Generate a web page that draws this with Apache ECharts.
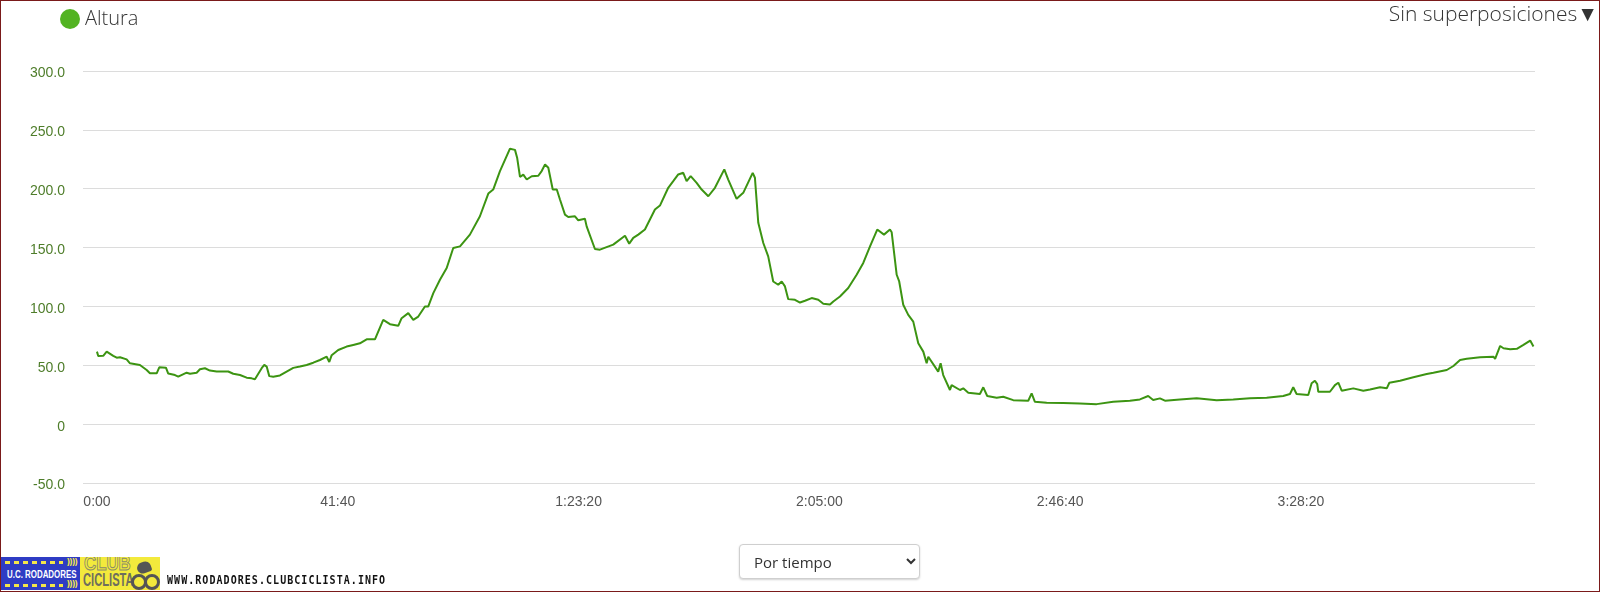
<!DOCTYPE html>
<html>
<head>
<meta charset="utf-8">
<script src="https://cdn.jsdelivr.net/npm/echarts@6/dist/echarts.min.js"></script>
<style>
  html, body { margin: 0; padding: 0; background: #fff; }
  #chart { position: absolute; left: 0; top: 0; width: 1600px; height: 592px; }
  #frame { position: absolute; left: 0; top: 0; width: 1600px; height: 592px; box-sizing: border-box; border: 1px solid #7a1a1a; pointer-events: none; }
  #mode { position: absolute; left: 739px; top: 544px; width: 181px; height: 35px; font: 15px 'Open Sans', sans-serif; color: #333; padding: 0 8px 0 10px; border: 1px solid #cfcfcf; border-radius: 4px; background: #fff; box-shadow: 0 1px 2px rgba(0,0,0,0.18); }
  #logo1 { position: absolute; left: 1px; top: 557px; width: 79px; height: 33px; background: #2f3cc4; overflow: hidden; }
  #logo1 .dash { position: absolute; left: 4px; width: 58px; height: 3px; background: repeating-linear-gradient(90deg, #f3e64a 0 5px, transparent 5px 9px); }
  #logo1 .txt { position: absolute; left: 6px; top: 11px; font: bold 11px 'Liberation Sans', sans-serif; color: #fff; white-space: nowrap; transform: scaleX(0.72); transform-origin: left top; }
  #logo1 .arr { position: absolute; right: 3px; font: bold 8px 'DejaVu Sans', sans-serif; color: #f3e64a; letter-spacing: -1px; }
  #logo2 { position: absolute; left: 80px; top: 557px; width: 80px; height: 33px; background: #f3ea3c; overflow: hidden; }
  #logo2 .club { position: absolute; left: 4px; top: -6px; font: bold 21px 'Liberation Sans', sans-serif; color: transparent; -webkit-text-stroke: 1px #8a8a6a; transform: scaleX(0.8); transform-origin: left top; }
  #logo2 .cic { position: absolute; left: 3px; top: 13px; font: bold 18px 'Liberation Sans', sans-serif; color: #6e6e5e; transform: scaleX(0.62); transform-origin: left top; }
  #logo2 .w { position: absolute; width: 10px; height: 10px; border: 3px solid #555; border-radius: 50%; top: 17px; }
  #logo2 .b { position: absolute; left: 57px; top: 5px; width: 14px; height: 11px; background: #555; border-radius: 6px 6px 2px 6px; transform: rotate(-20deg); }
  #site { position: absolute; left: 167px; top: 573px; font: bold 10px 'DejaVu Sans Mono', monospace; color: #111; letter-spacing: 1.05px; transform: scaleY(1.25); transform-origin: left top; white-space: nowrap; }
</style>
</head>
<body>
<div id="chart"></div>
<select id="mode"><option>Por tiempo</option><option>Por distancia</option></select>
<div id="logo1">
  <div class="dash" style="top:4px"></div>
  <div class="arr" style="top:1px">))))</div>
  <div class="txt">U.C. RODADORES</div>
  <div class="dash" style="top:27px"></div>
  <div class="arr" style="top:23px">))))</div>
</div>
<div id="logo2">
  <div class="club">CLUB</div>
  <div class="cic">CICLISTA</div>
  <div class="b"></div>
  <div class="w" style="left:51px"></div>
  <div class="w" style="left:64px"></div>
</div>
<div id="site">WWW.RODADORES.CLUBCICLISTA.INFO</div>
<div id="frame"></div>
<script>
// elapsed time in seconds
const timeSec = [0, 13, 65, 101, 169, 205, 239, 308, 343, 446, 516, 550, 620, 647, 716, 740, 810, 844, 931, 966,
  1035, 1069, 1121, 1173, 1243, 1363, 1415, 1485, 1554, 1606, 1640, 1658, 1710, 1737, 1762, 1789, 1830, 1900, 1969, 2038,
  2108, 2177, 2246, 2315, 2385, 2412, 2437, 2505, 2592, 2661, 2730, 2800, 2886, 2972, 3042, 3128, 3163, 3232, 3284, 3336,
  3405, 3440, 3492, 3561, 3631, 3699, 3769, 3872, 3976, 4063, 4114, 4184, 4288, 4340, 4363, 4392, 4426, 4462, 4514, 4582,
  4617, 4652, 4686, 4732, 4774, 4807, 4859, 4893, 4963, 4997, 5066, 5084, 5170, 5222, 5360, 5482, 5526, 5568, 5620, 5689,
  5793, 5845, 5931, 5983, 6035, 6087, 6122, 6164, 6226, 6278, 6347, 6416, 6513, 6554, 6641, 6710, 6808, 6831, 6866, 6918,
  6969, 7021, 7073, 7109, 7143, 7177, 7247, 7299, 7351, 7420, 7489, 7541, 7610, 7645, 7714, 7800, 7887, 7956, 8026, 8101,
  8171, 8233, 8251, 8303, 8329, 8371, 8423, 8475, 8527, 8579, 8614, 8631, 8734, 8759, 8786, 8856, 8873, 8960, 8994, 9046,
  9167, 9202, 9243, 9341, 9409, 9513, 9669, 9704, 9738, 9860, 10032, 10205, 10379, 10551, 10724, 10828, 10914, 10966, 11036, 11088,
  11244, 11417, 11625, 11797, 11971, 12144, 12316, 12386, 12420, 12455, 12576, 12611, 12645, 12669, 12680, 12801, 12853, 12888, 12923, 13044,
  13147, 13217, 13321, 13391, 13418, 13529, 13667, 13806, 13875, 14014, 14083, 14152, 14222, 14360, 14498, 14516, 14568, 14603, 14672, 14741,
  14810, 14880, 14914];
// altitude (m)
const altitude = [61.6, 57.9, 58.0, 61.6, 58.0, 56.5, 56.8, 55.0, 51.7, 50.3, 46.0, 43.2, 43.2, 48.3, 48.0, 43.0, 41.7, 40.3, 43.7, 42.8,
  43.7, 46.6, 47.5, 45.5, 44.7, 44.7, 42.8, 41.7, 39.5, 38.9, 38.1, 39.5, 47.5, 50.3, 48.9, 40.8, 40.3, 41.4, 44.7, 47.8,
  48.9, 50.3, 52.2, 54.5, 57.3, 52.8, 58.6, 63.0, 65.9, 67.3, 68.7, 72.1, 72.1, 88.6, 84.9, 83.5, 90.0, 94.3, 88.6, 91.4,
  99.9, 100.0, 111.3, 122.7, 132.6, 149.6, 151.0, 161.0, 176.6, 195.9, 199.3, 214.9, 234.0, 233.0, 226.0, 210.0, 212.0, 207.8, 210.6, 211.0,
  215.0, 220.6, 217.8, 199.3, 199.3, 190.8, 178.0, 176.0, 176.6, 173.2, 174.4, 168.0, 148.8, 148.2, 152.5, 160.1, 153.3, 158.2, 161.0, 165.3,
  182.3, 185.7, 200.8, 206.4, 212.1, 213.5, 206.4, 210.7, 205.0, 199.3, 193.6, 200.8, 216.4, 207.8, 191.4, 196.5, 213.5, 209.3, 171.0, 153.9,
  142.5, 121.2, 118.4, 121.2, 117.0, 106.2, 105.6, 103.3, 104.8, 107.1, 105.6, 102.2, 101.6, 104.2, 108.4, 115.6, 126.9, 136.9, 151.0, 165.3,
  161.0, 165.3, 163.0, 126.9, 121.2, 101.4, 92.8, 87.1, 68.7, 61.6, 51.7, 57.3, 44.6, 51.7, 41.7, 29.0, 33.2, 29.0, 30.4, 26.7,
  25.6, 31.3, 23.9, 22.4, 23.3, 20.4, 19.9, 26.1, 19.0, 18.1, 18.0, 17.6, 17.0, 19.0, 19.9, 21.0, 23.9, 20.5, 21.9, 19.9,
  21.0, 21.9, 20.4, 21.0, 21.9, 22.5, 23.9, 25.6, 31.3, 25.6, 24.7, 34.7, 36.9, 34.0, 27.5, 27.5, 33.2, 35.2, 28.4, 30.4,
  28.4, 29.5, 31.3, 30.4, 35.2, 36.9, 39.8, 42.6, 43.7, 46.0, 49.4, 54.5, 55.6, 56.8, 57.3, 55.5, 66.4, 64.5, 63.6, 64.0,
  67.3, 71.0, 65.9];
const xTickValues = [0, 2500, 5000, 7500, 10000, 12500];
const yMin = -50, yMax = 300, yStep = 50;
const seriesName = 'Altura';
const overlayLabel = 'Sin superposiciones\u25BC';

function pad(n) { return (n < 10 ? '0' : '') + n; }
function fmtTime(s) {
  s = Math.round(s);
  const h = Math.floor(s / 3600), m = Math.floor((s % 3600) / 60), sec = s % 60;
  return h > 0 ? h + ':' + pad(m) + ':' + pad(sec) : m + ':' + pad(sec);
}

const data = timeSec.map((t, i) => [t, altitude[i]]);
const chart = echarts.init(document.getElementById('chart'), null, { renderer: 'canvas' });
chart.setOption({
  animation: false,
  backgroundColor: '#fff',
  legend: {
    left: 55, top: 4,
    icon: 'circle', itemWidth: 20, itemHeight: 20, itemGap: 6,
    data: [{ name: seriesName, itemStyle: { color: '#52b322' } }],
    textStyle: { fontSize: 20, fontFamily: 'Open Sans', fontWeight: 300, color: '#333' }
  },
  graphic: [{
    type: 'text', right: 2, top: 5,
    style: { text: overlayLabel, fontSize: 21, fontFamily: 'Open Sans', fontWeight: 300, fill: '#333' }
  }],
  grid: { left: 83, right: 65, top: 71, bottom: 109 },
  xAxis: {
    type: 'value', min: -145, max: 14930,
    axisLine: { show: false }, axisTick: { show: false }, splitLine: { show: false },
    axisLabel: {
      customValues: xTickValues, margin: 12,
      formatter: v => fmtTime(v),
      color: '#555', fontSize: 14, fontFamily: 'Liberation Sans, Arial, sans-serif'
    }
  },
  yAxis: {
    type: 'value', min: yMin, max: yMax, interval: yStep,
    axisLine: { show: false }, axisTick: { show: false },
    splitLine: { lineStyle: { color: '#dcdcdc', width: 1 } },
    axisLabel: {
      margin: 18, verticalAlign: 'top', lineHeight: 5,
      formatter: v => (v === 0 ? '0' : v.toFixed(1)),
      color: '#4e7d2a', fontSize: 14, fontFamily: 'Liberation Sans, Arial, sans-serif'
    }
  },
  series: [{
    name: seriesName, type: 'line', data: data,
    showSymbol: false, symbol: 'none',
    lineStyle: { color: '#3c9412', width: 2 },
    itemStyle: { color: '#3c9412' }
  }]
});
</script>
</body>
</html>
